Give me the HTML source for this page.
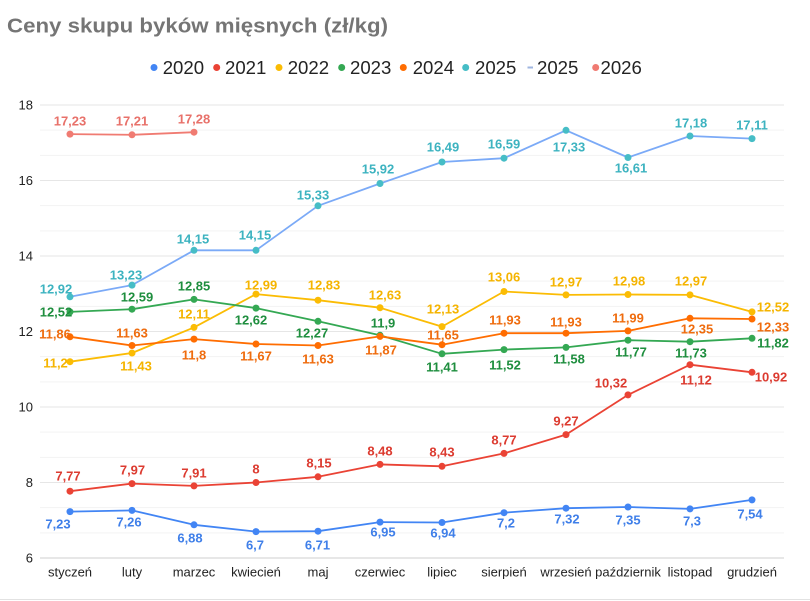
<!DOCTYPE html>
<html><head><meta charset="utf-8"><style>
html,body{margin:0;padding:0;background:#fff;}
svg{display:block;font-family:"Liberation Sans",Arial,sans-serif;}
.lb{font-size:13px;font-weight:bold;text-anchor:middle;}
.ax{font-size:13px;fill:#222;}
</style></head><body>
<svg width="810" height="601" viewBox="0 0 810 601" xmlns="http://www.w3.org/2000/svg">
<defs>
<marker id="m0" viewBox="-4 -4 8 8" markerWidth="8" markerHeight="8" markerUnits="userSpaceOnUse"><circle r="3.5" fill="#4285f4"/></marker>
<marker id="m1" viewBox="-4 -4 8 8" markerWidth="8" markerHeight="8" markerUnits="userSpaceOnUse"><circle r="3.5" fill="#ea4335"/></marker>
<marker id="m2" viewBox="-4 -4 8 8" markerWidth="8" markerHeight="8" markerUnits="userSpaceOnUse"><circle r="3.5" fill="#fbbc04"/></marker>
<marker id="m3" viewBox="-4 -4 8 8" markerWidth="8" markerHeight="8" markerUnits="userSpaceOnUse"><circle r="3.5" fill="#34a853"/></marker>
<marker id="m4" viewBox="-4 -4 8 8" markerWidth="8" markerHeight="8" markerUnits="userSpaceOnUse"><circle r="3.5" fill="#ff6d01"/></marker>
<marker id="m5" viewBox="-4 -4 8 8" markerWidth="8" markerHeight="8" markerUnits="userSpaceOnUse"><circle r="3.5" fill="#46bdc6"/></marker>
<marker id="m7" viewBox="-4 -4 8 8" markerWidth="8" markerHeight="8" markerUnits="userSpaceOnUse"><circle r="3.5" fill="#f07b72"/></marker>
</defs>
<rect width="810" height="601" fill="#fff"/>
<!-- title -->
<text x="7" y="32.5" font-size="20" font-weight="bold" fill="#757575" textLength="381" lengthAdjust="spacingAndGlyphs">Ceny skupu byków mięsnych (zł/kg)</text>
<!-- legend -->
<g font-size="18.6" fill="#222">
<circle cx="154" cy="67.5" r="3.5" fill="#4285f4"/><text x="162.7" y="74">2020</text>
<circle cx="216.7" cy="67.5" r="3.5" fill="#ea4335"/><text x="225" y="74">2021</text>
<circle cx="279" cy="67.5" r="3.5" fill="#fbbc04"/><text x="287.7" y="74">2022</text>
<circle cx="341.7" cy="67.5" r="3.5" fill="#34a853"/><text x="350" y="74">2023</text>
<circle cx="403.3" cy="67.5" r="3.5" fill="#ff6d01"/><text x="412.7" y="74">2024</text>
<circle cx="465.7" cy="67.5" r="3.5" fill="#46bdc6"/><text x="475" y="74">2025</text>
<rect x="527.5" y="66.5" width="5.5" height="2" fill="#9fb6e0"/><text x="537" y="74">2025</text>
<circle cx="595.7" cy="67.5" r="3.5" fill="#f07b72"/><text x="600.5" y="74">2026</text>
</g>
<!-- gridlines -->
<g stroke-width="1">
<line x1="40" x2="784" y1="532.83" y2="532.83" stroke="#f3f3f3"/>
<line x1="40" x2="784" y1="507.67" y2="507.67" stroke="#f3f3f3"/>
<line x1="40" x2="784" y1="482.5" y2="482.5" stroke="#e6e6e6"/>
<line x1="40" x2="784" y1="457.33" y2="457.33" stroke="#f3f3f3"/>
<line x1="40" x2="784" y1="432.17" y2="432.17" stroke="#f3f3f3"/>
<line x1="40" x2="784" y1="407" y2="407" stroke="#e6e6e6"/>
<line x1="40" x2="784" y1="381.83" y2="381.83" stroke="#f3f3f3"/>
<line x1="40" x2="784" y1="356.67" y2="356.67" stroke="#f3f3f3"/>
<line x1="40" x2="784" y1="331.5" y2="331.5" stroke="#e6e6e6"/>
<line x1="40" x2="784" y1="306.33" y2="306.33" stroke="#f3f3f3"/>
<line x1="40" x2="784" y1="281.17" y2="281.17" stroke="#f3f3f3"/>
<line x1="40" x2="784" y1="256" y2="256" stroke="#e6e6e6"/>
<line x1="40" x2="784" y1="230.83" y2="230.83" stroke="#f3f3f3"/>
<line x1="40" x2="784" y1="205.67" y2="205.67" stroke="#f3f3f3"/>
<line x1="40" x2="784" y1="180.5" y2="180.5" stroke="#e6e6e6"/>
<line x1="40" x2="784" y1="155.33" y2="155.33" stroke="#f3f3f3"/>
<line x1="40" x2="784" y1="130.17" y2="130.17" stroke="#f3f3f3"/>
<line x1="40" x2="784" y1="105" y2="105" stroke="#e6e6e6"/>
<line x1="40" x2="784" y1="558" y2="558" stroke="#cfcfcf"/>
<line x1="0" x2="810" y1="599.5" y2="599.5" stroke="#e2e2e2"/>
</g>
<!-- y axis labels -->
<g class="ax" text-anchor="end">
<text x="33" y="109.7">18</text>
<text x="33" y="185.2">16</text>
<text x="33" y="260.7">14</text>
<text x="33" y="336.2">12</text>
<text x="33" y="411.7">10</text>
<text x="33" y="487.2">8</text>
<text x="33" y="562.7">6</text>
</g>
<!-- x axis labels -->
<g class="ax" text-anchor="middle">
<text x="70" y="576.5">styczeń</text>
<text x="132" y="576.5">luty</text>
<text x="194" y="576.5">marzec</text>
<text x="256" y="576.5">kwiecień</text>
<text x="318" y="576.5">maj</text>
<text x="380" y="576.5">czerwiec</text>
<text x="442" y="576.5">lipiec</text>
<text x="504" y="576.5">sierpień</text>
<text x="566" y="576.5">wrzesień</text>
<text x="628" y="576.5">październik</text>
<text x="690" y="576.5">listopad</text>
<text x="752" y="576.5">grudzień</text>
</g>
<!-- series -->
<g fill="none" stroke-width="1.8" stroke-linejoin="round">
<polyline stroke="#4285f4" marker-start="url(#m0)" marker-mid="url(#m0)" marker-end="url(#m0)" points="70,511.6 132,510.4 194,524.8 256,531.6 318,531.2 380,522.1 442,522.5 504,512.7 566,508.2 628,507.0 690,508.9 752,499.9"/>
<polyline stroke="#ea4335" marker-start="url(#m1)" marker-mid="url(#m1)" marker-end="url(#m1)" points="70,491.2 132,483.6 194,485.9 256,482.5 318,476.8 380,464.4 442,466.3 504,453.4 566,434.6 628,394.9 690,364.7 752,372.3"/>
<polyline stroke="#fbbc04" marker-start="url(#m2)" marker-mid="url(#m2)" marker-end="url(#m2)" points="70,361.7 132,353.0 194,327.4 256,294.1 318,300.2 380,307.7 442,326.6 504,291.5 566,294.9 628,294.5 690,294.9 752,311.9"/>
<polyline stroke="#34a853" marker-start="url(#m3)" marker-mid="url(#m3)" marker-end="url(#m3)" points="70,311.9 132,309.2 194,299.4 256,308.1 318,321.3 380,335.3 442,353.8 504,349.6 566,347.4 628,340.2 690,341.7 752,338.3"/>
<polyline stroke="#ff6d01" marker-start="url(#m4)" marker-mid="url(#m4)" marker-end="url(#m4)" points="70,336.8 132,345.5 194,339.1 256,344.0 318,345.5 380,336.4 442,344.7 504,333.2 566,333.2 628,330.9 690,318.3 752,319.0"/>
<polyline stroke="#7baaf7" marker-start="url(#m5)" marker-mid="url(#m5)" marker-end="url(#m5)" points="70,296.8 132,285.1 194,250.3 256,250.3 318,205.8 380,183.5 442,162.0 504,158.2 566,130.3 628,157.5 690,136.0 752,138.6"/>
<polyline stroke="#f07b72" marker-start="url(#m7)" marker-mid="url(#m7)" marker-end="url(#m7)" points="70,134.1 132,134.8 194,132.2"/>
</g>
<!-- labels 2026 -->
<g class="lb" fill="#e8716a">
<text x="70" y="125.7">17,23</text>
<text x="132" y="125.7">17,21</text>
<text x="194" y="123.7">17,28</text>
</g>
<!-- labels 2025 -->
<g class="lb" fill="#3db3c0">
<text x="56" y="293.7">12,92</text>
<text x="126" y="279.7">13,23</text>
<text x="193" y="243.7">14,15</text>
<text x="255" y="239.7">14,15</text>
<text x="313" y="199.7">15,33</text>
<text x="378" y="173.7">15,92</text>
<text x="443" y="151.7">16,49</text>
<text x="504" y="148.7">16,59</text>
<text x="569" y="151.7">17,33</text>
<text x="631" y="172.7">16,61</text>
<text x="691" y="127.4">17,18</text>
<text x="752" y="129.7">17,11</text>
</g>
<!-- labels 2023 -->
<g class="lb" fill="#1e8e3e">
<text x="56" y="316.7">12,52</text>
<text x="137" y="301.7">12,59</text>
<text x="194" y="290.7">12,85</text>
<text x="251" y="324.7">12,62</text>
<text x="312" y="337.7">12,27</text>
<text x="383" y="327.7">11,9</text>
<text x="442" y="371.7">11,41</text>
<text x="505" y="369.7">11,52</text>
<text x="569" y="363.7">11,58</text>
<text x="631" y="356.7">11,77</text>
<text x="691" y="357.7">11,73</text>
<text x="773" y="347.7">11,82</text>
</g>
<!-- labels 2022 -->
<g class="lb" fill="#f5b400">
<text x="55.5" y="367.4">11,2</text>
<text x="136" y="370.7">11,43</text>
<text x="194" y="318.7">12,11</text>
<text x="261" y="289.7">12,99</text>
<text x="324" y="289.7">12,83</text>
<text x="385" y="299.7">12,63</text>
<text x="443" y="313.7">12,13</text>
<text x="504" y="281.7">13,06</text>
<text x="566" y="286.7">12,97</text>
<text x="629" y="285.7">12,98</text>
<text x="691" y="285.7">12,97</text>
<text x="773" y="311.7">12,52</text>
</g>
<!-- labels 2024 -->
<g class="lb" fill="#ef6c0e">
<text x="55" y="338.7">11,86</text>
<text x="132" y="337.7">11,63</text>
<text x="194" y="359.7">11,8</text>
<text x="256" y="360.7">11,67</text>
<text x="318" y="363.7">11,63</text>
<text x="381" y="354.7">11,87</text>
<text x="443" y="339.7">11,65</text>
<text x="505" y="324.7">11,93</text>
<text x="566" y="326.7">11,93</text>
<text x="628" y="322.7">11,99</text>
<text x="697" y="333.7">12,35</text>
<text x="773" y="331.4">12,33</text>
</g>
<!-- labels 2021 -->
<g class="lb" fill="#dc3b30">
<text x="68" y="480.7">7,77</text>
<text x="132.5" y="474.7">7,97</text>
<text x="194" y="477.4">7,91</text>
<text x="256" y="473.7">8</text>
<text x="319" y="467.7">8,15</text>
<text x="380" y="455.7">8,48</text>
<text x="442" y="456.7">8,43</text>
<text x="504" y="444.7">8,77</text>
<text x="566" y="425.4">9,27</text>
<text x="611" y="387.4">10,32</text>
<text x="696" y="384.7">11,12</text>
<text x="771" y="381.4">10,92</text>
</g>
<!-- labels 2020 -->
<g class="lb" fill="#3f7fe9">
<text x="58" y="528.7">7,23</text>
<text x="129" y="526.4">7,26</text>
<text x="190" y="542.7">6,88</text>
<text x="255" y="549.7">6,7</text>
<text x="317.5" y="549.7">6,71</text>
<text x="383" y="536.4">6,95</text>
<text x="443" y="537.7">6,94</text>
<text x="506" y="527.7">7,2</text>
<text x="567" y="523.7">7,32</text>
<text x="628" y="524.7">7,35</text>
<text x="692" y="525.4">7,3</text>
<text x="750" y="518.7">7,54</text>
</g>
</svg>
</body></html>
